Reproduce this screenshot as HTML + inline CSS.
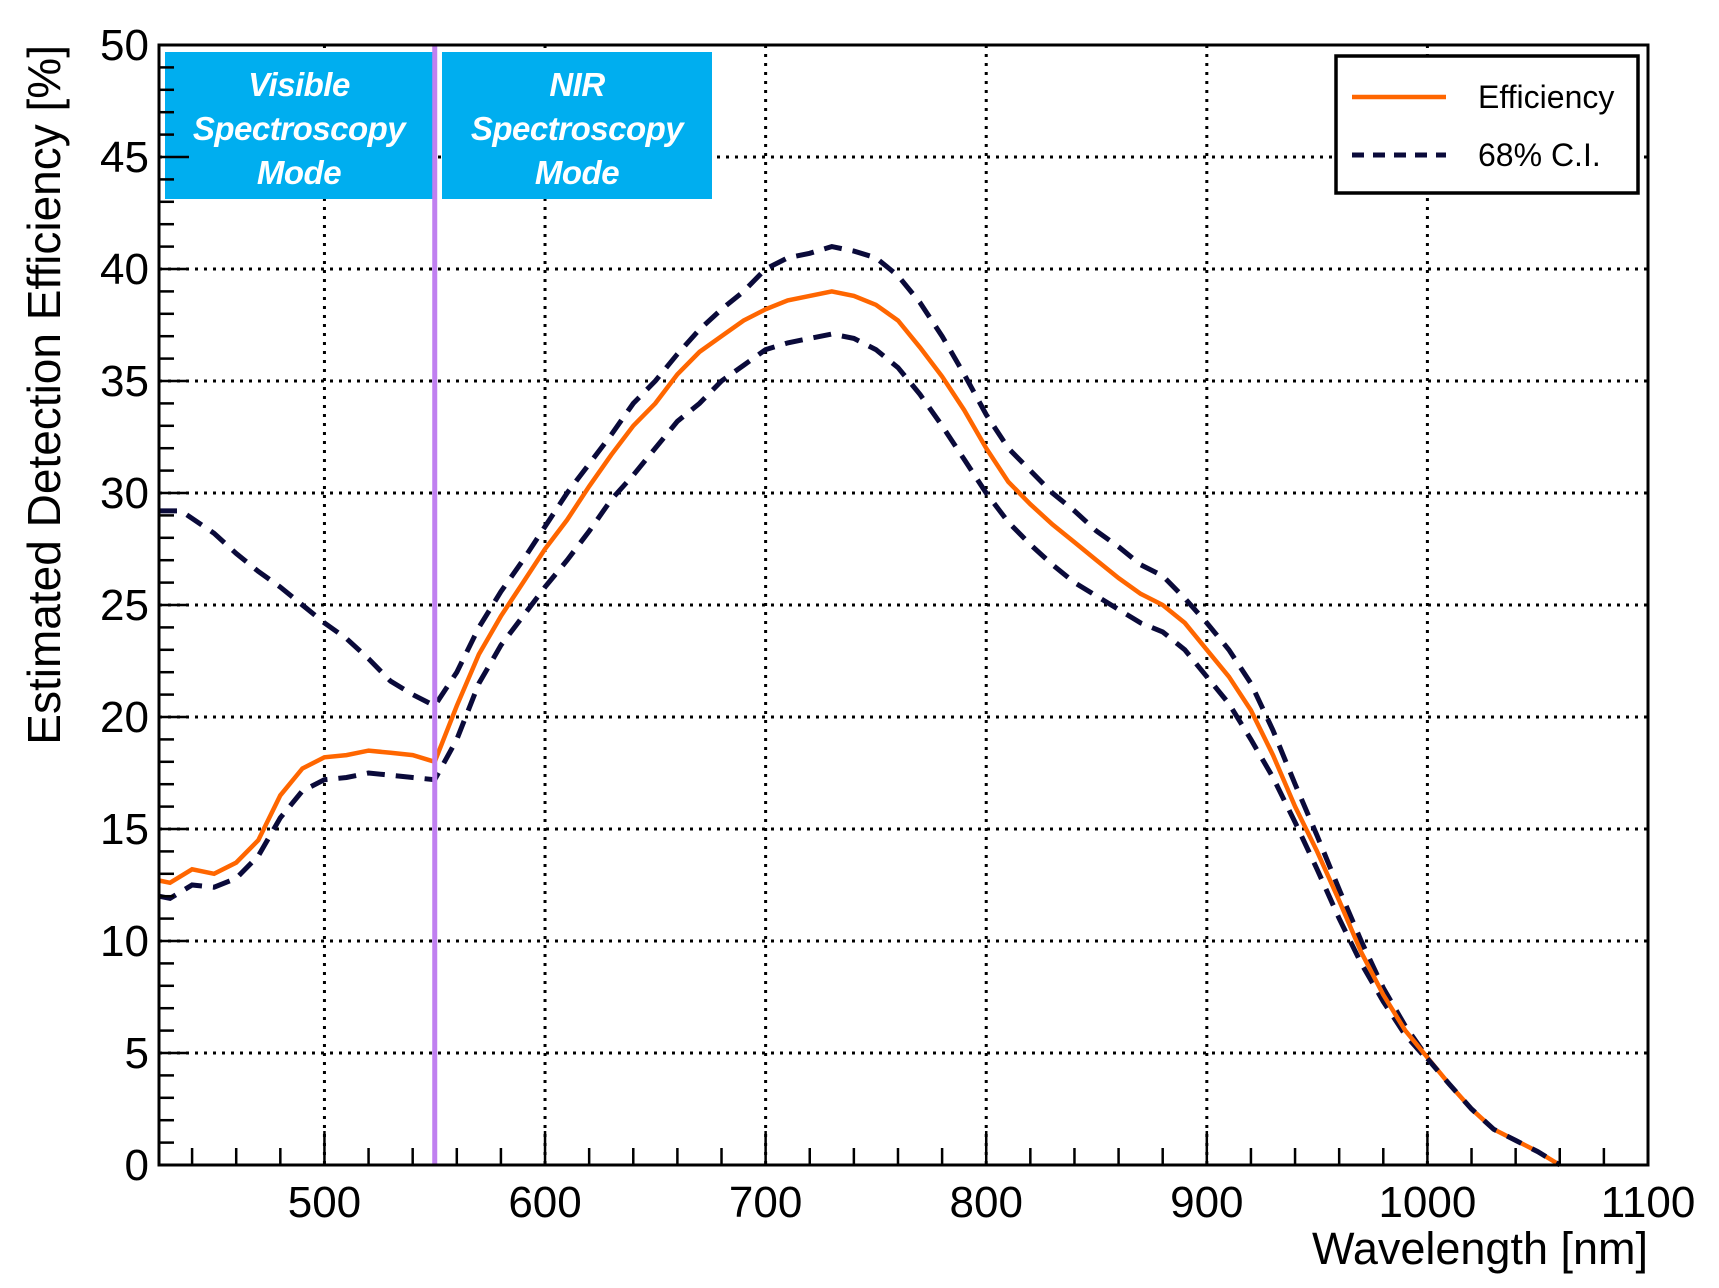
<!DOCTYPE html>
<html><head><meta charset="utf-8"><style>
html,body{margin:0;padding:0;background:#fff;}
svg{display:block;font-family:"Liberation Sans",Arial,sans-serif;}
</style></head><body>
<svg id="s" width="1719" height="1288" viewBox="0 0 1719 1288" xmlns="http://www.w3.org/2000/svg">
<rect width="1719" height="1288" fill="#fff"/>
<g id="grid"></g>
<rect x="165" y="52" width="268" height="147" fill="#00aeef"/>
<rect x="442" y="52" width="270" height="147" fill="#00aeef"/>
<g fill="#fff" font-style="italic" font-weight="bold" font-size="33" text-anchor="middle" letter-spacing="-0.5">
<text x="299" y="96">Visible</text><text x="299" y="140">Spectroscopy</text><text x="299" y="184">Mode</text>
<text x="577" y="96">NIR</text><text x="577" y="140">Spectroscopy</text><text x="577" y="184">Mode</text>
</g>
<g id="curves"></g>
<rect x="159" y="45" width="1489" height="1120" fill="none" stroke="#000" stroke-width="3"/>
<g id="ticks"></g>
<rect x="1336" y="56" width="302" height="137" fill="#fff" stroke="#000" stroke-width="3.5"/>
<line x1="1352" y1="97" x2="1446" y2="97" stroke="#ff6600" stroke-width="4.5"/>
<line x1="1352" y1="155" x2="1446" y2="155" stroke="#0a0a3a" stroke-width="5" stroke-dasharray="12,9"/>
<text x="1478" y="108" font-size="32">Efficiency</text>
<text x="1478" y="166" font-size="32">68% C.I.</text>
<text x="1648" y="1264" font-size="45" text-anchor="end">Wavelength [nm]</text>
<text transform="translate(60,45) rotate(-90)" font-size="46" text-anchor="end">Estimated Detection Efficiency [%]</text>
</svg>
<script>
var L=159,R=1648,T=45,B=1165;
function X(n){return L+(n-425)/675*(R-L);}
function Y(v){return B-v/50*(B-T);}
var g='',t='';
for(var n=500;n<=1000;n+=100){g+='<line x1="'+X(n)+'" y1="'+T+'" x2="'+X(n)+'" y2="'+B+'" stroke="#000" stroke-width="3" stroke-dasharray="3,6"/>';}
for(var v=5;v<50;v+=5){g+='<line x1="'+L+'" y1="'+Y(v)+'" x2="'+R+'" y2="'+Y(v)+'" stroke="#000" stroke-width="3" stroke-dasharray="3,6"/>';}
document.getElementById('grid').innerHTML=g;
for(var n=440;n<=1100;n+=20){var big=(n%100==0);t+='<line x1="'+X(n)+'" y1="'+B+'" x2="'+X(n)+'" y2="'+(B-(big?34:17))+'" stroke="#000" stroke-width="2.5"/>';
 if(big)t+='<text x="'+X(n)+'" y="'+(B+52)+'" font-size="44" text-anchor="middle">'+n+'</text>';}
for(var v=0;v<=50;v++){var big=(v%5==0);t+='<line x1="'+L+'" y1="'+Y(v)+'" x2="'+(L+(big?30:15))+'" y2="'+Y(v)+'" stroke="#000" stroke-width="2.5"/>';
 if(big)t+='<text x="149" y="'+(Y(v)+15)+'" font-size="44" text-anchor="end">'+v+'</text>';}
document.getElementById('ticks').innerHTML=t;
var tail=[[1010,3.6],[1020,2.5],[1030,1.6],[1040,1.1],[1050,0.6],[1060,0]];
var eff=[[425,12.7],[430,12.6],[440,13.2],[450,13.0],[460,13.5],[470,14.5],[475,15.5],[480,16.5],[490,17.7],[500,18.2],[510,18.3],[520,18.5],[530,18.4],[540,18.3],[550,18.0],[560,20.5],[570,22.8],[580,24.5],[590,26.0],[600,27.5],[610,28.8],[620,30.3],[630,31.7],[640,33.0],[650,34.0],[660,35.3],[670,36.3],[680,37.0],[690,37.7],[700,38.2],[710,38.6],[720,38.8],[730,39.0],[740,38.8],[750,38.4],[760,37.7],[770,36.5],[780,35.2],[790,33.7],[800,32.0],[810,30.5],[820,29.5],[830,28.6],[840,27.8],[850,27.0],[860,26.2],[870,25.5],[880,25.0],[890,24.2],[900,23.0],[910,21.8],[920,20.3],[930,18.3],[940,16.0],[950,14.0],[960,11.8],[970,9.5],[980,7.6],[990,6.0],[1000,4.8]].concat(tail);
var up=[[425,29.2],[435,29.2],[450,28.2],[460,27.3],[470,26.5],[480,25.8],[490,25.0],[500,24.2],[510,23.5],[520,22.6],[530,21.6],[540,21.0],[550,20.5],[560,22.0],[570,24.0],[580,25.6],[590,27.0],[600,28.5],[610,30.0],[620,31.3],[630,32.6],[640,34.0],[650,35.0],[660,36.2],[670,37.3],[680,38.2],[690,39.0],[700,40.0],[710,40.5],[720,40.7],[730,41.0],[740,40.8],[750,40.5],[760,39.7],[770,38.5],[780,37.0],[790,35.3],[800,33.5],[810,32.0],[820,31.0],[830,30.0],[840,29.2],[850,28.3],[860,27.6],[870,26.8],[880,26.3],[890,25.3],[900,24.2],[910,23.0],[920,21.5],[930,19.4],[940,17.0],[950,14.7],[960,12.3],[970,10.0],[980,7.9],[990,6.2],[1000,4.8]];
var lo=[[425,12.0],[430,11.9],[440,12.5],[450,12.4],[460,12.8],[470,13.8],[480,15.5],[490,16.7],[500,17.2],[510,17.3],[520,17.5],[530,17.4],[540,17.3],[550,17.2],[560,19.0],[570,21.5],[580,23.2],[590,24.5],[600,25.8],[610,27.0],[620,28.3],[630,29.7],[640,30.8],[650,32.0],[660,33.2],[670,34.0],[680,35.0],[690,35.7],[700,36.4],[710,36.7],[720,36.9],[730,37.1],[740,36.9],[750,36.4],[760,35.6],[770,34.4],[780,33.0],[790,31.5],[800,30.0],[810,28.7],[820,27.7],[830,26.8],[840,26.0],[850,25.4],[860,24.8],[870,24.2],[880,23.8],[890,23.0],[900,21.8],[910,20.6],[920,19.0],[930,17.3],[940,15.3],[950,13.2],[960,11.0],[970,9.0],[980,7.3],[990,5.8],[1000,4.7]];
function P(a){return a.map(function(p){return X(p[0]).toFixed(1)+','+Y(p[1]).toFixed(1);}).join(' ');}
var c='';
var ds=' fill="none" stroke="#0a0a3a" stroke-width="5" stroke-dasharray="18,11"/>';
c+='<polyline points="'+P(up)+'"'+ds;
c+='<polyline points="'+P(lo)+'"'+ds;
c+='<polyline points="'+P(eff)+'" fill="none" stroke="#ff6600" stroke-width="4.5"/>';
c+='<polyline points="'+P([[1000,4.75]].concat(tail))+'"'+ds.replace('18,11','16,12');
c+='<line x1="'+X(550)+'" y1="'+T+'" x2="'+X(550)+'" y2="'+B+'" stroke="#c080f0" stroke-width="5"/>';
document.getElementById('curves').innerHTML=c;
</script>
</body></html>
